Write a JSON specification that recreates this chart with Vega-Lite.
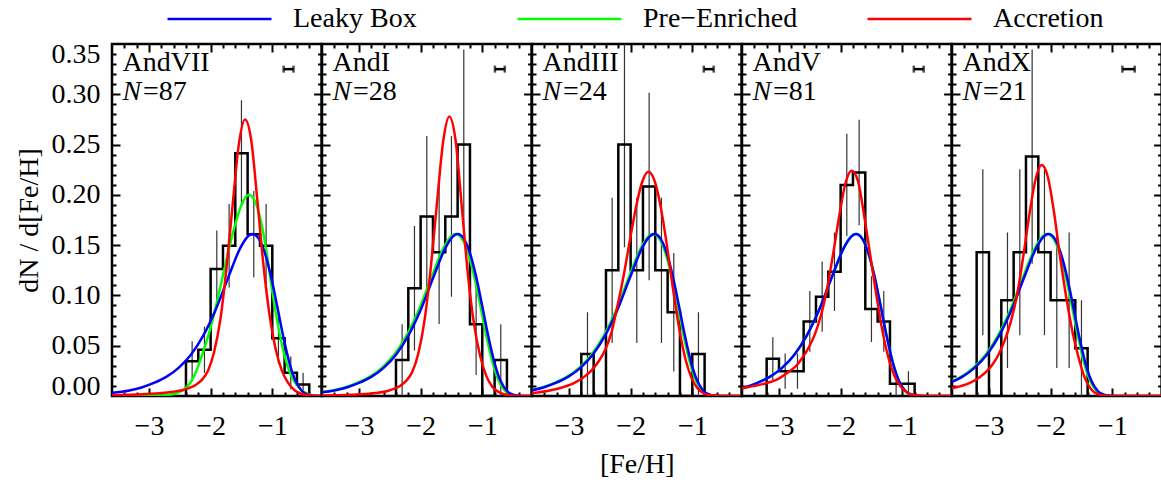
{
"$schema": "https://vega.github.io/schema/vega-lite/v6.json",
"background": "white",
"padding": {"left": 13, "top": 4, "right": 0, "bottom": 4},
"spacing": 0,
"bounds": "flush",
"config": {
  "view": {"stroke": "black", "strokeWidth": 2.5},
  "font": "Liberation Serif",
  "axis": {"grid": false, "domain": false, "tickColor": "black", "tickWidth": 2, "labelFont": "Liberation Serif", "labelFontSize": 28, "labelColor": "black", "titleFont": "Liberation Serif", "titleFontSize": 28, "titleFontWeight": "normal", "titleColor": "black"},
  "legend": {"labelFont": "Liberation Serif", "labelFontSize": 28, "labelColor": "black", "padding": 0}
},
"datasets": {
"hist": [
{"p":"AndVII","o":0,"x":-2.4,"y":0},{"p":"AndVII","o":1,"x":-2.4,"y":0.0345},{"p":"AndVII","o":2,"x":-2.2,"y":0.046},{"p":"AndVII","o":3,"x":-2.0,"y":0.1264},{"p":"AndVII","o":4,"x":-1.8,"y":0.1494},{"p":"AndVII","o":5,"x":-1.6,"y":0.2414},{"p":"AndVII","o":6,"x":-1.4,"y":0.1609},{"p":"AndVII","o":7,"x":-1.2,"y":0.1494},{"p":"AndVII","o":8,"x":-1.0,"y":0.0575},{"p":"AndVII","o":9,"x":-0.8,"y":0.023},{"p":"AndVII","o":10,"x":-0.6,"y":0.0115},{"p":"AndVII","o":11,"x":-0.4,"y":0},
{"p":"AndI","o":0,"x":-2.4,"y":0},{"p":"AndI","o":1,"x":-2.4,"y":0.0357},{"p":"AndI","o":2,"x":-2.2,"y":0.1071},{"p":"AndI","o":3,"x":-2.0,"y":0.1786},{"p":"AndI","o":4,"x":-1.8,"y":0.1429},{"p":"AndI","o":5,"x":-1.6,"y":0.1786},{"p":"AndI","o":6,"x":-1.4,"y":0.25},{"p":"AndI","o":7,"x":-1.2,"y":0.0714},{"p":"AndI","o":8,"x":-1.0,"y":0},{"p":"AndI","o":9,"x":-0.8,"y":0.0357},{"p":"AndI","o":10,"x":-0.6,"y":0},
{"p":"AndIII","o":0,"x":-2.8,"y":0},{"p":"AndIII","o":1,"x":-2.8,"y":0.0417},{"p":"AndIII","o":2,"x":-2.6,"y":0},{"p":"AndIII","o":3,"x":-2.4,"y":0.125},{"p":"AndIII","o":4,"x":-2.2,"y":0.25},{"p":"AndIII","o":5,"x":-2.0,"y":0.125},{"p":"AndIII","o":6,"x":-1.8,"y":0.2083},{"p":"AndIII","o":7,"x":-1.6,"y":0.125},{"p":"AndIII","o":8,"x":-1.4,"y":0.0833},{"p":"AndIII","o":9,"x":-1.2,"y":0},{"p":"AndIII","o":10,"x":-1.0,"y":0.0417},{"p":"AndIII","o":11,"x":-0.8,"y":0},
{"p":"AndV","o":0,"x":-3.2,"y":0},{"p":"AndV","o":1,"x":-3.2,"y":0.037},{"p":"AndV","o":2,"x":-3.0,"y":0.0247},{"p":"AndV","o":3,"x":-2.8,"y":0.0247},{"p":"AndV","o":4,"x":-2.6,"y":0.0741},{"p":"AndV","o":5,"x":-2.4,"y":0.0988},{"p":"AndV","o":6,"x":-2.2,"y":0.1235},{"p":"AndV","o":7,"x":-2.0,"y":0.2099},{"p":"AndV","o":8,"x":-1.8,"y":0.2222},{"p":"AndV","o":9,"x":-1.6,"y":0.0864},{"p":"AndV","o":10,"x":-1.4,"y":0.0741},{"p":"AndV","o":11,"x":-1.2,"y":0.0123},{"p":"AndV","o":12,"x":-1.0,"y":0.0123},{"p":"AndV","o":13,"x":-0.8,"y":0},
{"p":"AndX","o":0,"x":-3.2,"y":0},{"p":"AndX","o":1,"x":-3.2,"y":0.1429},{"p":"AndX","o":2,"x":-3.0,"y":0},{"p":"AndX","o":3,"x":-2.8,"y":0.0952},{"p":"AndX","o":4,"x":-2.6,"y":0.1429},{"p":"AndX","o":5,"x":-2.4,"y":0.2381},{"p":"AndX","o":6,"x":-2.2,"y":0.1429},{"p":"AndX","o":7,"x":-2.0,"y":0.0952},{"p":"AndX","o":8,"x":-1.8,"y":0.0952},{"p":"AndX","o":9,"x":-1.6,"y":0.0476},{"p":"AndX","o":10,"x":-1.4,"y":0}
],
"err": [
{"p":"AndVII","x":-2.3,"lo":0.0146,"hi":0.0544},{"p":"AndVII","x":-2.1,"lo":0.023,"hi":0.069},{"p":"AndVII","x":-1.9,"lo":0.0883,"hi":0.1645},{"p":"AndVII","x":-1.7,"lo":0.108,"hi":0.1908},{"p":"AndVII","x":-1.5,"lo":0.1887,"hi":0.2941},{"p":"AndVII","x":-1.3,"lo":0.1179,"hi":0.2039},{"p":"AndVII","x":-1.1,"lo":0.108,"hi":0.1908},{"p":"AndVII","x":-0.9,"lo":0.0318,"hi":0.0832},{"p":"AndVII","x":-0.7,"lo":0.0067,"hi":0.0393},{"p":"AndVII","x":-0.5,"lo":0,"hi":0.023},
{"p":"AndI","x":-2.3,"lo":0,"hi":0.0714},{"p":"AndI","x":-2.1,"lo":0.0452,"hi":0.169},{"p":"AndI","x":-1.9,"lo":0.0987,"hi":0.2585},{"p":"AndI","x":-1.7,"lo":0.0715,"hi":0.2143},{"p":"AndI","x":-1.5,"lo":0.0987,"hi":0.2585},{"p":"AndI","x":-1.3,"lo":0.1555,"hi":0.3445},{"p":"AndI","x":-1.1,"lo":0.0209,"hi":0.1219},{"p":"AndI","x":-0.7,"lo":0,"hi":0.0714},
{"p":"AndIII","x":-2.7,"lo":0,"hi":0.0833},{"p":"AndIII","x":-2.3,"lo":0.0528,"hi":0.1972},{"p":"AndIII","x":-2.1,"lo":0.1479,"hi":0.3521},{"p":"AndIII","x":-1.9,"lo":0.0528,"hi":0.1972},{"p":"AndIII","x":-1.7,"lo":0.1151,"hi":0.3015},{"p":"AndIII","x":-1.5,"lo":0.0528,"hi":0.1972},{"p":"AndIII","x":-1.3,"lo":0.0244,"hi":0.1422},{"p":"AndIII","x":-0.9,"lo":0,"hi":0.0833},
{"p":"AndV","x":-3.1,"lo":0.0156,"hi":0.0584},{"p":"AndV","x":-2.9,"lo":0.0072,"hi":0.0422},{"p":"AndV","x":-2.7,"lo":0.0072,"hi":0.0422},{"p":"AndV","x":-2.5,"lo":0.0439,"hi":0.1043},{"p":"AndV","x":-2.3,"lo":0.0639,"hi":0.1337},{"p":"AndV","x":-2.1,"lo":0.0845,"hi":0.1625},{"p":"AndV","x":-1.9,"lo":0.159,"hi":0.2608},{"p":"AndV","x":-1.7,"lo":0.1698,"hi":0.2746},{"p":"AndV","x":-1.5,"lo":0.0537,"hi":0.1191},{"p":"AndV","x":-1.3,"lo":0.0439,"hi":0.1043},{"p":"AndV","x":-1.1,"lo":0,"hi":0.0246},{"p":"AndV","x":-0.9,"lo":0,"hi":0.0246},
{"p":"AndX","x":-3.1,"lo":0.0604,"hi":0.2254},{"p":"AndX","x":-2.7,"lo":0.0279,"hi":0.1625},{"p":"AndX","x":-2.5,"lo":0.0604,"hi":0.2254},{"p":"AndX","x":-2.3,"lo":0.1316,"hi":0.3446},{"p":"AndX","x":-2.1,"lo":0.0604,"hi":0.2254},{"p":"AndX","x":-1.9,"lo":0.0279,"hi":0.1625},{"p":"AndX","x":-1.7,"lo":0.0279,"hi":0.1625},{"p":"AndX","x":-1.5,"lo":0,"hi":0.0952}
],
"typ": [
{"p":"AndVII","lo":-0.816,"hi":-0.656},{"p":"AndI","lo":-0.795,"hi":-0.635},{"p":"AndIII","lo":-0.813,"hi":-0.653},{"p":"AndV","lo":-0.813,"hi":-0.653},{"p":"AndX","lo":-0.836,"hi":-0.636}
],
"curve": [
{"p":"AndVII","m":"Pre−Enriched","x":-3.7,"y":0},{"p":"AndVII","m":"Pre−Enriched","x":-2.8,"y":0.0005},{"p":"AndVII","m":"Pre−Enriched","x":-2.6,"y":0.002},{"p":"AndVII","m":"Pre−Enriched","x":-2.5,"y":0.004},{"p":"AndVII","m":"Pre−Enriched","x":-2.4,"y":0.008},{"p":"AndVII","m":"Pre−Enriched","x":-2.3,"y":0.016},{"p":"AndVII","m":"Pre−Enriched","x":-2.2,"y":0.03},{"p":"AndVII","m":"Pre−Enriched","x":-2.1,"y":0.048},{"p":"AndVII","m":"Pre−Enriched","x":-2.0,"y":0.068},{"p":"AndVII","m":"Pre−Enriched","x":-1.9,"y":0.093},{"p":"AndVII","m":"Pre−Enriched","x":-1.8,"y":0.12},{"p":"AndVII","m":"Pre−Enriched","x":-1.7,"y":0.147},{"p":"AndVII","m":"Pre−Enriched","x":-1.6,"y":0.171},{"p":"AndVII","m":"Pre−Enriched","x":-1.5,"y":0.19},{"p":"AndVII","m":"Pre−Enriched","x":-1.38,"y":0.2},{"p":"AndVII","m":"Pre−Enriched","x":-1.3,"y":0.196},{"p":"AndVII","m":"Pre−Enriched","x":-1.2,"y":0.178},{"p":"AndVII","m":"Pre−Enriched","x":-1.1,"y":0.146},{"p":"AndVII","m":"Pre−Enriched","x":-1.0,"y":0.104},{"p":"AndVII","m":"Pre−Enriched","x":-0.9,"y":0.068},{"p":"AndVII","m":"Pre−Enriched","x":-0.8,"y":0.04},{"p":"AndVII","m":"Pre−Enriched","x":-0.7,"y":0.021},{"p":"AndVII","m":"Pre−Enriched","x":-0.6,"y":0.011},{"p":"AndVII","m":"Pre−Enriched","x":-0.5,"y":0.0045},{"p":"AndVII","m":"Pre−Enriched","x":-0.4,"y":0.0015},{"p":"AndVII","m":"Pre−Enriched","x":-0.3,"y":0},{"p":"AndVII","m":"Pre−Enriched","x":0.5,"y":0},
{"p":"AndVII","m":"Leaky Box","x":-3.72,"y":0.0025},{"p":"AndVII","m":"Leaky Box","x":-3.32,"y":0.0055},{"p":"AndVII","m":"Leaky Box","x":-3.12,"y":0.0085},{"p":"AndVII","m":"Leaky Box","x":-2.92,"y":0.013},{"p":"AndVII","m":"Leaky Box","x":-2.72,"y":0.019},{"p":"AndVII","m":"Leaky Box","x":-2.52,"y":0.028},{"p":"AndVII","m":"Leaky Box","x":-2.32,"y":0.041},{"p":"AndVII","m":"Leaky Box","x":-2.12,"y":0.06},{"p":"AndVII","m":"Leaky Box","x":-1.92,"y":0.0855},{"p":"AndVII","m":"Leaky Box","x":-1.72,"y":0.117},{"p":"AndVII","m":"Leaky Box","x":-1.52,"y":0.147},{"p":"AndVII","m":"Leaky Box","x":-1.42,"y":0.157},{"p":"AndVII","m":"Leaky Box","x":-1.32,"y":0.161},{"p":"AndVII","m":"Leaky Box","x":-1.22,"y":0.1565},{"p":"AndVII","m":"Leaky Box","x":-1.12,"y":0.142},{"p":"AndVII","m":"Leaky Box","x":-1.02,"y":0.1187},{"p":"AndVII","m":"Leaky Box","x":-0.92,"y":0.0892},{"p":"AndVII","m":"Leaky Box","x":-0.82,"y":0.0586},{"p":"AndVII","m":"Leaky Box","x":-0.72,"y":0.0325},{"p":"AndVII","m":"Leaky Box","x":-0.62,"y":0.0146},{"p":"AndVII","m":"Leaky Box","x":-0.52,"y":0.005},{"p":"AndVII","m":"Leaky Box","x":-0.42,"y":0.0012},{"p":"AndVII","m":"Leaky Box","x":-0.32,"y":0.0002},{"p":"AndVII","m":"Leaky Box","x":-0.12,"y":0},{"p":"AndVII","m":"Leaky Box","x":0.68,"y":0},
{"p":"AndVII","m":"Accretion","x":-3.843,"y":0.0005},{"p":"AndVII","m":"Accretion","x":-3.443,"y":0.001},{"p":"AndVII","m":"Accretion","x":-3.043,"y":0.002},{"p":"AndVII","m":"Accretion","x":-2.643,"y":0.004},{"p":"AndVII","m":"Accretion","x":-2.443,"y":0.006},{"p":"AndVII","m":"Accretion","x":-2.343,"y":0.008},{"p":"AndVII","m":"Accretion","x":-2.243,"y":0.011},{"p":"AndVII","m":"Accretion","x":-2.143,"y":0.016},{"p":"AndVII","m":"Accretion","x":-2.043,"y":0.025},{"p":"AndVII","m":"Accretion","x":-1.943,"y":0.044},{"p":"AndVII","m":"Accretion","x":-1.843,"y":0.076},{"p":"AndVII","m":"Accretion","x":-1.743,"y":0.127},{"p":"AndVII","m":"Accretion","x":-1.643,"y":0.19},{"p":"AndVII","m":"Accretion","x":-1.543,"y":0.25},{"p":"AndVII","m":"Accretion","x":-1.443,"y":0.275},{"p":"AndVII","m":"Accretion","x":-1.343,"y":0.255},{"p":"AndVII","m":"Accretion","x":-1.243,"y":0.195},{"p":"AndVII","m":"Accretion","x":-1.143,"y":0.13},{"p":"AndVII","m":"Accretion","x":-1.043,"y":0.08},{"p":"AndVII","m":"Accretion","x":-0.943,"y":0.046},{"p":"AndVII","m":"Accretion","x":-0.843,"y":0.025},{"p":"AndVII","m":"Accretion","x":-0.743,"y":0.013},{"p":"AndVII","m":"Accretion","x":-0.643,"y":0.006},{"p":"AndVII","m":"Accretion","x":-0.543,"y":0.0025},{"p":"AndVII","m":"Accretion","x":-0.443,"y":0.001},{"p":"AndVII","m":"Accretion","x":-0.243,"y":0},{"p":"AndVII","m":"Accretion","x":0.557,"y":0},
{"p":"AndI","m":"Pre−Enriched","x":-3.83,"y":0.0025},{"p":"AndI","m":"Pre−Enriched","x":-3.43,"y":0.0055},{"p":"AndI","m":"Pre−Enriched","x":-3.23,"y":0.0085},{"p":"AndI","m":"Pre−Enriched","x":-3.03,"y":0.013},{"p":"AndI","m":"Pre−Enriched","x":-2.83,"y":0.019},{"p":"AndI","m":"Pre−Enriched","x":-2.63,"y":0.028},{"p":"AndI","m":"Pre−Enriched","x":-2.43,"y":0.041},{"p":"AndI","m":"Pre−Enriched","x":-2.23,"y":0.06},{"p":"AndI","m":"Pre−Enriched","x":-2.03,"y":0.0855},{"p":"AndI","m":"Pre−Enriched","x":-1.83,"y":0.117},{"p":"AndI","m":"Pre−Enriched","x":-1.63,"y":0.147},{"p":"AndI","m":"Pre−Enriched","x":-1.53,"y":0.157},{"p":"AndI","m":"Pre−Enriched","x":-1.43,"y":0.161},{"p":"AndI","m":"Pre−Enriched","x":-1.33,"y":0.1565},{"p":"AndI","m":"Pre−Enriched","x":-1.23,"y":0.142},{"p":"AndI","m":"Pre−Enriched","x":-1.13,"y":0.1187},{"p":"AndI","m":"Pre−Enriched","x":-1.03,"y":0.0892},{"p":"AndI","m":"Pre−Enriched","x":-0.93,"y":0.0586},{"p":"AndI","m":"Pre−Enriched","x":-0.83,"y":0.0325},{"p":"AndI","m":"Pre−Enriched","x":-0.73,"y":0.0146},{"p":"AndI","m":"Pre−Enriched","x":-0.63,"y":0.005},{"p":"AndI","m":"Pre−Enriched","x":-0.53,"y":0.0012},{"p":"AndI","m":"Pre−Enriched","x":-0.43,"y":0.0002},{"p":"AndI","m":"Pre−Enriched","x":-0.23,"y":0},{"p":"AndI","m":"Pre−Enriched","x":0.57,"y":0},
{"p":"AndI","m":"Leaky Box","x":-3.8,"y":0.0025},{"p":"AndI","m":"Leaky Box","x":-3.4,"y":0.0055},{"p":"AndI","m":"Leaky Box","x":-3.2,"y":0.0085},{"p":"AndI","m":"Leaky Box","x":-3.0,"y":0.013},{"p":"AndI","m":"Leaky Box","x":-2.8,"y":0.019},{"p":"AndI","m":"Leaky Box","x":-2.6,"y":0.028},{"p":"AndI","m":"Leaky Box","x":-2.4,"y":0.041},{"p":"AndI","m":"Leaky Box","x":-2.2,"y":0.06},{"p":"AndI","m":"Leaky Box","x":-2.0,"y":0.0855},{"p":"AndI","m":"Leaky Box","x":-1.8,"y":0.117},{"p":"AndI","m":"Leaky Box","x":-1.6,"y":0.147},{"p":"AndI","m":"Leaky Box","x":-1.5,"y":0.157},{"p":"AndI","m":"Leaky Box","x":-1.4,"y":0.161},{"p":"AndI","m":"Leaky Box","x":-1.3,"y":0.1565},{"p":"AndI","m":"Leaky Box","x":-1.2,"y":0.142},{"p":"AndI","m":"Leaky Box","x":-1.1,"y":0.1187},{"p":"AndI","m":"Leaky Box","x":-1.0,"y":0.0892},{"p":"AndI","m":"Leaky Box","x":-0.9,"y":0.0586},{"p":"AndI","m":"Leaky Box","x":-0.8,"y":0.0325},{"p":"AndI","m":"Leaky Box","x":-0.7,"y":0.0146},{"p":"AndI","m":"Leaky Box","x":-0.6,"y":0.005},{"p":"AndI","m":"Leaky Box","x":-0.5,"y":0.0012},{"p":"AndI","m":"Leaky Box","x":-0.4,"y":0.0002},{"p":"AndI","m":"Leaky Box","x":-0.2,"y":0},{"p":"AndI","m":"Leaky Box","x":0.6,"y":0},
{"p":"AndI","m":"Accretion","x":-3.935,"y":0.0003},{"p":"AndI","m":"Accretion","x":-3.535,"y":0.0006},{"p":"AndI","m":"Accretion","x":-3.135,"y":0.0012},{"p":"AndI","m":"Accretion","x":-2.735,"y":0.003},{"p":"AndI","m":"Accretion","x":-2.535,"y":0.005},{"p":"AndI","m":"Accretion","x":-2.435,"y":0.007},{"p":"AndI","m":"Accretion","x":-2.335,"y":0.01},{"p":"AndI","m":"Accretion","x":-2.235,"y":0.015},{"p":"AndI","m":"Accretion","x":-2.135,"y":0.024},{"p":"AndI","m":"Accretion","x":-2.035,"y":0.043},{"p":"AndI","m":"Accretion","x":-1.935,"y":0.076},{"p":"AndI","m":"Accretion","x":-1.835,"y":0.128},{"p":"AndI","m":"Accretion","x":-1.735,"y":0.192},{"p":"AndI","m":"Accretion","x":-1.635,"y":0.253},{"p":"AndI","m":"Accretion","x":-1.535,"y":0.278},{"p":"AndI","m":"Accretion","x":-1.435,"y":0.255},{"p":"AndI","m":"Accretion","x":-1.335,"y":0.19},{"p":"AndI","m":"Accretion","x":-1.235,"y":0.122},{"p":"AndI","m":"Accretion","x":-1.135,"y":0.072},{"p":"AndI","m":"Accretion","x":-1.035,"y":0.04},{"p":"AndI","m":"Accretion","x":-0.935,"y":0.02},{"p":"AndI","m":"Accretion","x":-0.835,"y":0.009},{"p":"AndI","m":"Accretion","x":-0.735,"y":0.004},{"p":"AndI","m":"Accretion","x":-0.635,"y":0.0015},{"p":"AndI","m":"Accretion","x":-0.535,"y":0.0005},{"p":"AndI","m":"Accretion","x":-0.335,"y":0},{"p":"AndI","m":"Accretion","x":0.465,"y":0},
{"p":"AndIII","m":"Pre−Enriched","x":-4.035,"y":0.0025},{"p":"AndIII","m":"Pre−Enriched","x":-3.635,"y":0.0055},{"p":"AndIII","m":"Pre−Enriched","x":-3.435,"y":0.0085},{"p":"AndIII","m":"Pre−Enriched","x":-3.235,"y":0.013},{"p":"AndIII","m":"Pre−Enriched","x":-3.035,"y":0.019},{"p":"AndIII","m":"Pre−Enriched","x":-2.835,"y":0.028},{"p":"AndIII","m":"Pre−Enriched","x":-2.635,"y":0.041},{"p":"AndIII","m":"Pre−Enriched","x":-2.435,"y":0.06},{"p":"AndIII","m":"Pre−Enriched","x":-2.235,"y":0.0855},{"p":"AndIII","m":"Pre−Enriched","x":-2.035,"y":0.117},{"p":"AndIII","m":"Pre−Enriched","x":-1.835,"y":0.147},{"p":"AndIII","m":"Pre−Enriched","x":-1.735,"y":0.157},{"p":"AndIII","m":"Pre−Enriched","x":-1.635,"y":0.161},{"p":"AndIII","m":"Pre−Enriched","x":-1.535,"y":0.1565},{"p":"AndIII","m":"Pre−Enriched","x":-1.435,"y":0.142},{"p":"AndIII","m":"Pre−Enriched","x":-1.335,"y":0.1187},{"p":"AndIII","m":"Pre−Enriched","x":-1.235,"y":0.0892},{"p":"AndIII","m":"Pre−Enriched","x":-1.135,"y":0.0586},{"p":"AndIII","m":"Pre−Enriched","x":-1.035,"y":0.0325},{"p":"AndIII","m":"Pre−Enriched","x":-0.935,"y":0.0146},{"p":"AndIII","m":"Pre−Enriched","x":-0.835,"y":0.005},{"p":"AndIII","m":"Pre−Enriched","x":-0.735,"y":0.0012},{"p":"AndIII","m":"Pre−Enriched","x":-0.635,"y":0.0002},{"p":"AndIII","m":"Pre−Enriched","x":-0.435,"y":0},{"p":"AndIII","m":"Pre−Enriched","x":0.365,"y":0},
{"p":"AndIII","m":"Leaky Box","x":-4.015,"y":0.0025},{"p":"AndIII","m":"Leaky Box","x":-3.615,"y":0.0055},{"p":"AndIII","m":"Leaky Box","x":-3.415,"y":0.0085},{"p":"AndIII","m":"Leaky Box","x":-3.215,"y":0.013},{"p":"AndIII","m":"Leaky Box","x":-3.015,"y":0.019},{"p":"AndIII","m":"Leaky Box","x":-2.815,"y":0.028},{"p":"AndIII","m":"Leaky Box","x":-2.615,"y":0.041},{"p":"AndIII","m":"Leaky Box","x":-2.415,"y":0.06},{"p":"AndIII","m":"Leaky Box","x":-2.215,"y":0.0855},{"p":"AndIII","m":"Leaky Box","x":-2.015,"y":0.117},{"p":"AndIII","m":"Leaky Box","x":-1.815,"y":0.147},{"p":"AndIII","m":"Leaky Box","x":-1.715,"y":0.157},{"p":"AndIII","m":"Leaky Box","x":-1.615,"y":0.161},{"p":"AndIII","m":"Leaky Box","x":-1.515,"y":0.1565},{"p":"AndIII","m":"Leaky Box","x":-1.415,"y":0.142},{"p":"AndIII","m":"Leaky Box","x":-1.315,"y":0.1187},{"p":"AndIII","m":"Leaky Box","x":-1.215,"y":0.0892},{"p":"AndIII","m":"Leaky Box","x":-1.115,"y":0.0586},{"p":"AndIII","m":"Leaky Box","x":-1.015,"y":0.0325},{"p":"AndIII","m":"Leaky Box","x":-0.915,"y":0.0146},{"p":"AndIII","m":"Leaky Box","x":-0.815,"y":0.005},{"p":"AndIII","m":"Leaky Box","x":-0.715,"y":0.0012},{"p":"AndIII","m":"Leaky Box","x":-0.615,"y":0.0002},{"p":"AndIII","m":"Leaky Box","x":-0.415,"y":0},{"p":"AndIII","m":"Leaky Box","x":0.385,"y":0},
{"p":"AndIII","m":"Accretion","x":-4.112,"y":0.001},{"p":"AndIII","m":"Accretion","x":-3.712,"y":0.0025},{"p":"AndIII","m":"Accretion","x":-3.512,"y":0.0035},{"p":"AndIII","m":"Accretion","x":-3.312,"y":0.0055},{"p":"AndIII","m":"Accretion","x":-3.112,"y":0.0085},{"p":"AndIII","m":"Accretion","x":-2.912,"y":0.013},{"p":"AndIII","m":"Accretion","x":-2.712,"y":0.021},{"p":"AndIII","m":"Accretion","x":-2.612,"y":0.027},{"p":"AndIII","m":"Accretion","x":-2.512,"y":0.035},{"p":"AndIII","m":"Accretion","x":-2.412,"y":0.046},{"p":"AndIII","m":"Accretion","x":-2.312,"y":0.063},{"p":"AndIII","m":"Accretion","x":-2.212,"y":0.09},{"p":"AndIII","m":"Accretion","x":-2.112,"y":0.12},{"p":"AndIII","m":"Accretion","x":-2.012,"y":0.155},{"p":"AndIII","m":"Accretion","x":-1.912,"y":0.188},{"p":"AndIII","m":"Accretion","x":-1.812,"y":0.213},{"p":"AndIII","m":"Accretion","x":-1.712,"y":0.223},{"p":"AndIII","m":"Accretion","x":-1.612,"y":0.214},{"p":"AndIII","m":"Accretion","x":-1.512,"y":0.188},{"p":"AndIII","m":"Accretion","x":-1.412,"y":0.15},{"p":"AndIII","m":"Accretion","x":-1.312,"y":0.106},{"p":"AndIII","m":"Accretion","x":-1.212,"y":0.067},{"p":"AndIII","m":"Accretion","x":-1.112,"y":0.037},{"p":"AndIII","m":"Accretion","x":-1.012,"y":0.018},{"p":"AndIII","m":"Accretion","x":-0.912,"y":0.0075},{"p":"AndIII","m":"Accretion","x":-0.812,"y":0.0025},{"p":"AndIII","m":"Accretion","x":-0.712,"y":0.0008},{"p":"AndIII","m":"Accretion","x":-0.512,"y":0},{"p":"AndIII","m":"Accretion","x":0.288,"y":0},
{"p":"AndV","m":"Pre−Enriched","x":-4.15,"y":0.0025},{"p":"AndV","m":"Pre−Enriched","x":-3.75,"y":0.0055},{"p":"AndV","m":"Pre−Enriched","x":-3.55,"y":0.0085},{"p":"AndV","m":"Pre−Enriched","x":-3.35,"y":0.013},{"p":"AndV","m":"Pre−Enriched","x":-3.15,"y":0.019},{"p":"AndV","m":"Pre−Enriched","x":-2.95,"y":0.028},{"p":"AndV","m":"Pre−Enriched","x":-2.75,"y":0.041},{"p":"AndV","m":"Pre−Enriched","x":-2.55,"y":0.06},{"p":"AndV","m":"Pre−Enriched","x":-2.35,"y":0.0855},{"p":"AndV","m":"Pre−Enriched","x":-2.15,"y":0.117},{"p":"AndV","m":"Pre−Enriched","x":-1.95,"y":0.147},{"p":"AndV","m":"Pre−Enriched","x":-1.85,"y":0.157},{"p":"AndV","m":"Pre−Enriched","x":-1.75,"y":0.161},{"p":"AndV","m":"Pre−Enriched","x":-1.65,"y":0.1565},{"p":"AndV","m":"Pre−Enriched","x":-1.55,"y":0.142},{"p":"AndV","m":"Pre−Enriched","x":-1.45,"y":0.1187},{"p":"AndV","m":"Pre−Enriched","x":-1.35,"y":0.0892},{"p":"AndV","m":"Pre−Enriched","x":-1.25,"y":0.0586},{"p":"AndV","m":"Pre−Enriched","x":-1.15,"y":0.0325},{"p":"AndV","m":"Pre−Enriched","x":-1.05,"y":0.0146},{"p":"AndV","m":"Pre−Enriched","x":-0.95,"y":0.005},{"p":"AndV","m":"Pre−Enriched","x":-0.85,"y":0.0012},{"p":"AndV","m":"Pre−Enriched","x":-0.75,"y":0.0002},{"p":"AndV","m":"Pre−Enriched","x":-0.55,"y":0},{"p":"AndV","m":"Pre−Enriched","x":0.25,"y":0},
{"p":"AndV","m":"Leaky Box","x":-4.15,"y":0.0025},{"p":"AndV","m":"Leaky Box","x":-3.75,"y":0.0055},{"p":"AndV","m":"Leaky Box","x":-3.55,"y":0.0085},{"p":"AndV","m":"Leaky Box","x":-3.35,"y":0.013},{"p":"AndV","m":"Leaky Box","x":-3.15,"y":0.019},{"p":"AndV","m":"Leaky Box","x":-2.95,"y":0.028},{"p":"AndV","m":"Leaky Box","x":-2.75,"y":0.041},{"p":"AndV","m":"Leaky Box","x":-2.55,"y":0.06},{"p":"AndV","m":"Leaky Box","x":-2.35,"y":0.0855},{"p":"AndV","m":"Leaky Box","x":-2.15,"y":0.117},{"p":"AndV","m":"Leaky Box","x":-1.95,"y":0.147},{"p":"AndV","m":"Leaky Box","x":-1.85,"y":0.157},{"p":"AndV","m":"Leaky Box","x":-1.75,"y":0.161},{"p":"AndV","m":"Leaky Box","x":-1.65,"y":0.1565},{"p":"AndV","m":"Leaky Box","x":-1.55,"y":0.142},{"p":"AndV","m":"Leaky Box","x":-1.45,"y":0.1187},{"p":"AndV","m":"Leaky Box","x":-1.35,"y":0.0892},{"p":"AndV","m":"Leaky Box","x":-1.25,"y":0.0586},{"p":"AndV","m":"Leaky Box","x":-1.15,"y":0.0325},{"p":"AndV","m":"Leaky Box","x":-1.05,"y":0.0146},{"p":"AndV","m":"Leaky Box","x":-0.95,"y":0.005},{"p":"AndV","m":"Leaky Box","x":-0.85,"y":0.0012},{"p":"AndV","m":"Leaky Box","x":-0.75,"y":0.0002},{"p":"AndV","m":"Leaky Box","x":-0.55,"y":0},{"p":"AndV","m":"Leaky Box","x":0.25,"y":0},
{"p":"AndV","m":"Accretion","x":-4.22,"y":0.003},{"p":"AndV","m":"Accretion","x":-3.82,"y":0.006},{"p":"AndV","m":"Accretion","x":-3.62,"y":0.0076},{"p":"AndV","m":"Accretion","x":-3.42,"y":0.0098},{"p":"AndV","m":"Accretion","x":-3.22,"y":0.0125},{"p":"AndV","m":"Accretion","x":-3.02,"y":0.0168},{"p":"AndV","m":"Accretion","x":-2.82,"y":0.025},{"p":"AndV","m":"Accretion","x":-2.72,"y":0.03},{"p":"AndV","m":"Accretion","x":-2.62,"y":0.038},{"p":"AndV","m":"Accretion","x":-2.52,"y":0.048},{"p":"AndV","m":"Accretion","x":-2.42,"y":0.061},{"p":"AndV","m":"Accretion","x":-2.32,"y":0.08},{"p":"AndV","m":"Accretion","x":-2.22,"y":0.107},{"p":"AndV","m":"Accretion","x":-2.12,"y":0.142},{"p":"AndV","m":"Accretion","x":-2.02,"y":0.18},{"p":"AndV","m":"Accretion","x":-1.92,"y":0.212},{"p":"AndV","m":"Accretion","x":-1.82,"y":0.224},{"p":"AndV","m":"Accretion","x":-1.72,"y":0.214},{"p":"AndV","m":"Accretion","x":-1.62,"y":0.18},{"p":"AndV","m":"Accretion","x":-1.52,"y":0.14},{"p":"AndV","m":"Accretion","x":-1.42,"y":0.1},{"p":"AndV","m":"Accretion","x":-1.32,"y":0.064},{"p":"AndV","m":"Accretion","x":-1.22,"y":0.037},{"p":"AndV","m":"Accretion","x":-1.12,"y":0.019},{"p":"AndV","m":"Accretion","x":-1.02,"y":0.009},{"p":"AndV","m":"Accretion","x":-0.92,"y":0.0035},{"p":"AndV","m":"Accretion","x":-0.82,"y":0.001},{"p":"AndV","m":"Accretion","x":-0.62,"y":0},{"p":"AndV","m":"Accretion","x":0.18,"y":0},
{"p":"AndX","m":"Pre−Enriched","x":-4.455,"y":0.0025},{"p":"AndX","m":"Pre−Enriched","x":-4.055,"y":0.0055},{"p":"AndX","m":"Pre−Enriched","x":-3.855,"y":0.0085},{"p":"AndX","m":"Pre−Enriched","x":-3.655,"y":0.013},{"p":"AndX","m":"Pre−Enriched","x":-3.455,"y":0.019},{"p":"AndX","m":"Pre−Enriched","x":-3.255,"y":0.028},{"p":"AndX","m":"Pre−Enriched","x":-3.055,"y":0.041},{"p":"AndX","m":"Pre−Enriched","x":-2.855,"y":0.06},{"p":"AndX","m":"Pre−Enriched","x":-2.655,"y":0.0855},{"p":"AndX","m":"Pre−Enriched","x":-2.455,"y":0.117},{"p":"AndX","m":"Pre−Enriched","x":-2.255,"y":0.147},{"p":"AndX","m":"Pre−Enriched","x":-2.155,"y":0.157},{"p":"AndX","m":"Pre−Enriched","x":-2.055,"y":0.161},{"p":"AndX","m":"Pre−Enriched","x":-1.955,"y":0.1565},{"p":"AndX","m":"Pre−Enriched","x":-1.855,"y":0.142},{"p":"AndX","m":"Pre−Enriched","x":-1.755,"y":0.1187},{"p":"AndX","m":"Pre−Enriched","x":-1.655,"y":0.0892},{"p":"AndX","m":"Pre−Enriched","x":-1.555,"y":0.0586},{"p":"AndX","m":"Pre−Enriched","x":-1.455,"y":0.0325},{"p":"AndX","m":"Pre−Enriched","x":-1.355,"y":0.0146},{"p":"AndX","m":"Pre−Enriched","x":-1.255,"y":0.005},{"p":"AndX","m":"Pre−Enriched","x":-1.155,"y":0.0012},{"p":"AndX","m":"Pre−Enriched","x":-1.055,"y":0.0002},{"p":"AndX","m":"Pre−Enriched","x":-0.855,"y":0},{"p":"AndX","m":"Pre−Enriched","x":-0.055,"y":0},
{"p":"AndX","m":"Leaky Box","x":-4.435,"y":0.0025},{"p":"AndX","m":"Leaky Box","x":-4.035,"y":0.0055},{"p":"AndX","m":"Leaky Box","x":-3.835,"y":0.0085},{"p":"AndX","m":"Leaky Box","x":-3.635,"y":0.013},{"p":"AndX","m":"Leaky Box","x":-3.435,"y":0.019},{"p":"AndX","m":"Leaky Box","x":-3.235,"y":0.028},{"p":"AndX","m":"Leaky Box","x":-3.035,"y":0.041},{"p":"AndX","m":"Leaky Box","x":-2.835,"y":0.06},{"p":"AndX","m":"Leaky Box","x":-2.635,"y":0.0855},{"p":"AndX","m":"Leaky Box","x":-2.435,"y":0.117},{"p":"AndX","m":"Leaky Box","x":-2.235,"y":0.147},{"p":"AndX","m":"Leaky Box","x":-2.135,"y":0.157},{"p":"AndX","m":"Leaky Box","x":-2.035,"y":0.161},{"p":"AndX","m":"Leaky Box","x":-1.935,"y":0.1565},{"p":"AndX","m":"Leaky Box","x":-1.835,"y":0.142},{"p":"AndX","m":"Leaky Box","x":-1.735,"y":0.1187},{"p":"AndX","m":"Leaky Box","x":-1.635,"y":0.0892},{"p":"AndX","m":"Leaky Box","x":-1.535,"y":0.0586},{"p":"AndX","m":"Leaky Box","x":-1.435,"y":0.0325},{"p":"AndX","m":"Leaky Box","x":-1.335,"y":0.0146},{"p":"AndX","m":"Leaky Box","x":-1.235,"y":0.005},{"p":"AndX","m":"Leaky Box","x":-1.135,"y":0.0012},{"p":"AndX","m":"Leaky Box","x":-1.035,"y":0.0002},{"p":"AndX","m":"Leaky Box","x":-0.835,"y":0},{"p":"AndX","m":"Leaky Box","x":-0.035,"y":0},
{"p":"AndX","m":"Accretion","x":-4.546,"y":0.002},{"p":"AndX","m":"Accretion","x":-4.146,"y":0.004},{"p":"AndX","m":"Accretion","x":-3.946,"y":0.0052},{"p":"AndX","m":"Accretion","x":-3.746,"y":0.0065},{"p":"AndX","m":"Accretion","x":-3.546,"y":0.0085},{"p":"AndX","m":"Accretion","x":-3.346,"y":0.012},{"p":"AndX","m":"Accretion","x":-3.146,"y":0.019},{"p":"AndX","m":"Accretion","x":-3.046,"y":0.024},{"p":"AndX","m":"Accretion","x":-2.946,"y":0.031},{"p":"AndX","m":"Accretion","x":-2.846,"y":0.041},{"p":"AndX","m":"Accretion","x":-2.746,"y":0.055},{"p":"AndX","m":"Accretion","x":-2.646,"y":0.074},{"p":"AndX","m":"Accretion","x":-2.546,"y":0.1},{"p":"AndX","m":"Accretion","x":-2.446,"y":0.138},{"p":"AndX","m":"Accretion","x":-2.346,"y":0.18},{"p":"AndX","m":"Accretion","x":-2.246,"y":0.215},{"p":"AndX","m":"Accretion","x":-2.146,"y":0.2296},{"p":"AndX","m":"Accretion","x":-2.046,"y":0.218},{"p":"AndX","m":"Accretion","x":-1.946,"y":0.183},{"p":"AndX","m":"Accretion","x":-1.846,"y":0.138},{"p":"AndX","m":"Accretion","x":-1.746,"y":0.098},{"p":"AndX","m":"Accretion","x":-1.646,"y":0.064},{"p":"AndX","m":"Accretion","x":-1.546,"y":0.038},{"p":"AndX","m":"Accretion","x":-1.446,"y":0.018},{"p":"AndX","m":"Accretion","x":-1.346,"y":0.007},{"p":"AndX","m":"Accretion","x":-1.246,"y":0.002},{"p":"AndX","m":"Accretion","x":-1.146,"y":0.0005},{"p":"AndX","m":"Accretion","x":-0.946,"y":0},{"p":"AndX","m":"Accretion","x":-0.146,"y":0}
]
},
"hconcat": [
{
 "width": 209.6, "height": 352,
 "layer": [
  {"data": {"name": "err"}, "transform": [{"filter": "datum.p === 'AndVII'"}],
   "mark": {"type": "rule", "color": "#333333", "strokeWidth": 1.2, "clip": true},
   "encoding": {
    "x": {"field": "x", "type": "quantitative", "scale": {"domain": [-3.6, -0.2], "nice": false, "zero": false}, "axis": {"orient": "bottom", "values": [-3, -2, -1], "labels": false, "tickSize": 8, "offset": -8, "title": null}},
    "y": {"field": "lo", "type": "quantitative", "scale": {"domain": [0, 0.35], "nice": false, "zero": false}, "axis": {"orient": "left", "values": [0.05, 0.1, 0.15, 0.2, 0.25, 0.3], "labels": false, "tickSize": 8, "offset": -8, "title": null}},
    "y2": {"field": "hi"}}},
  {"data": {"name": "hist"}, "transform": [{"filter": "datum.p === 'AndVII'"}],
   "mark": {"type": "line", "interpolate": "step-after", "color": "black", "strokeWidth": 2.5, "clip": true},
   "encoding": {
    "x": {"field": "x", "type": "quantitative", "axis": {"orient": "bottom", "values": [-3, -2, -1], "format": "d", "ticks": false, "tickSize": 0, "labelPadding": 16, "labelFont": "Liberation Serif", "title": null}},
    "y": {"field": "y", "type": "quantitative", "axis": {"orient": "left", "values": [0, 0.05, 0.1, 0.15, 0.2, 0.25, 0.3, 0.35], "format": ".2f", "ticks": false, "tickSize": 0, "labelPadding": 12, "labelFlush": true, "labelFlushOffset": 4, "labelFont": "Liberation Serif", "title": "dN / d[Fe/H]", "titleFont": "Liberation Serif", "titlePadding": 8}},
    "order": {"field": "o", "type": "quantitative"}}},
  {"data": {"name": "curve"}, "transform": [{"filter": "datum.p === 'AndVII'"}],
   "mark": {"type": "line", "interpolate": "monotone", "strokeWidth": 2.5, "clip": true},
   "encoding": {
    "x": {"field": "x", "type": "quantitative", "axis": {"orient": "bottom", "values": [-3.4, -3.2, -2.8, -2.6, -2.4, -2.2, -1.8, -1.6, -1.4, -1.2, -0.8, -0.6, -0.4], "labels": false, "tickSize": 4, "offset": -4, "title": null}},
    "y": {"field": "y", "type": "quantitative", "axis": {"orient": "left", "values": [0.01,0.02,0.03,0.04,0.06,0.07,0.08,0.09,0.11,0.12,0.13,0.14,0.16,0.17,0.18,0.19,0.21,0.22,0.23,0.24,0.26,0.27,0.28,0.29,0.31,0.32,0.33,0.34], "labels": false, "tickSize": 4, "offset": -4, "title": null}},
    "color": {"field": "m", "type": "nominal", "scale": {"domain": ["Leaky Box", "Pre−Enriched", "Accretion"], "range": ["#0000ff", "#00ff00", "#ff0000"]},
      "legend": {"orient": "none", "legendX": 54, "legendY": -40, "direction": "horizontal", "columns": 3, "title": null, "symbolType": "stroke", "symbolSize": 10816, "symbolStrokeWidth": 2.5, "clipHeight": 30, "gridAlign": "all", "columnPadding": 68, "labelOffset": 20, "labelLimit": 400, "labelFont": "Liberation Serif"}}}},
  {"data": {"name": "typ"}, "transform": [{"filter": "datum.p === 'AndVII'"}],
   "mark": {"type": "rule", "color": "black", "strokeWidth": 2.5},
   "encoding": {
    "x": {"field": "lo", "type": "quantitative", "axis": {"orient": "top", "values": [-3, -2, -1], "labels": false, "tickSize": 8, "offset": -8, "title": null}},
    "x2": {"field": "hi"},
    "y": {"datum": 0.325, "type": "quantitative", "axis": {"orient": "right", "values": [0.05, 0.1, 0.15, 0.2, 0.25, 0.3], "labels": false, "tickSize": 8, "offset": -8, "title": null}}}},
  {"data": {"name": "typ"}, "transform": [{"filter": "datum.p === 'AndVII'"}, {"fold": ["lo", "hi"], "as": ["k", "v"]}],
   "mark": {"type": "tick", "orient": "vertical", "color": "black", "thickness": 2.5, "size": 7},
   "encoding": {
    "x": {"field": "v", "type": "quantitative", "axis": {"orient": "top", "values": [-3.4, -3.2, -2.8, -2.6, -2.4, -2.2, -1.8, -1.6, -1.4, -1.2, -0.8, -0.6, -0.4], "labels": false, "tickSize": 4, "offset": -4, "title": null}},
    "y": {"datum": 0.325, "type": "quantitative", "axis": {"orient": "right", "values": [0.01,0.02,0.03,0.04,0.06,0.07,0.08,0.09,0.11,0.12,0.13,0.14,0.16,0.17,0.18,0.19,0.21,0.22,0.23,0.24,0.26,0.27,0.28,0.29,0.31,0.32,0.33,0.34], "labels": false, "tickSize": 4, "offset": -4, "title": null}}}},
  {"data": {"values": [{}]}, "mark": {"type": "text", "align": "left", "baseline": "alphabetic", "font": "Liberation Serif", "fontSize": 28, "color": "black"},
   "encoding": {"x": {"datum": -3.43, "type": "quantitative", "axis": null}, "y": {"datum": 0.3235, "type": "quantitative", "axis": null}, "text": {"value": "AndVII"}}},
  {"data": {"values": [{}]}, "mark": {"type": "text", "align": "left", "baseline": "alphabetic", "font": "Liberation Serif", "fontSize": 28, "fontStyle": "italic", "color": "black"},
   "encoding": {"x": {"datum": -3.43, "type": "quantitative", "axis": null}, "y": {"datum": 0.2945, "type": "quantitative", "axis": null}, "text": {"value": "N"}}},
  {"data": {"values": [{}]}, "mark": {"type": "text", "align": "left", "baseline": "alphabetic", "font": "Liberation Serif", "fontSize": 28, "color": "black", "dx": 20.5},
   "encoding": {"x": {"datum": -3.43, "type": "quantitative", "axis": null}, "y": {"datum": 0.2945, "type": "quantitative", "axis": null}, "text": {"value": "=87"}}}
 ],
 "resolve": {"axis": {"x": "independent", "y": "independent"}}
},
{
 "width": 209.6, "height": 352,
 "layer": [
  {"data": {"name": "err"}, "transform": [{"filter": "datum.p === 'AndI'"}],
   "mark": {"type": "rule", "color": "#333333", "strokeWidth": 1.2, "clip": true},
   "encoding": {
    "x": {"field": "x", "type": "quantitative", "scale": {"domain": [-3.6, -0.2], "nice": false, "zero": false}, "axis": {"orient": "bottom", "values": [-3, -2, -1], "labels": false, "tickSize": 8, "offset": -8, "title": null}},
    "y": {"field": "lo", "type": "quantitative", "scale": {"domain": [0, 0.35], "nice": false, "zero": false}, "axis": {"orient": "left", "values": [0.05, 0.1, 0.15, 0.2, 0.25, 0.3], "labels": false, "tickSize": 8, "offset": -8, "title": null}},
    "y2": {"field": "hi"}}},
  {"data": {"name": "hist"}, "transform": [{"filter": "datum.p === 'AndI'"}],
   "mark": {"type": "line", "interpolate": "step-after", "color": "black", "strokeWidth": 2.5, "clip": true},
   "encoding": {
    "x": {"field": "x", "type": "quantitative", "axis": {"orient": "bottom", "values": [-3, -2, -1], "format": "d", "ticks": false, "tickSize": 0, "labelPadding": 16, "labelFont": "Liberation Serif", "title": null}},
    "y": {"field": "y", "type": "quantitative", "axis": null},
    "order": {"field": "o", "type": "quantitative"}}},
  {"data": {"name": "curve"}, "transform": [{"filter": "datum.p === 'AndI'"}],
   "mark": {"type": "line", "interpolate": "monotone", "strokeWidth": 2.5, "clip": true},
   "encoding": {
    "x": {"field": "x", "type": "quantitative", "axis": {"orient": "bottom", "values": [-3.4, -3.2, -2.8, -2.6, -2.4, -2.2, -1.8, -1.6, -1.4, -1.2, -0.8, -0.6, -0.4], "labels": false, "tickSize": 4, "offset": -4, "title": null}},
    "y": {"field": "y", "type": "quantitative", "axis": {"orient": "left", "values": [0.01,0.02,0.03,0.04,0.06,0.07,0.08,0.09,0.11,0.12,0.13,0.14,0.16,0.17,0.18,0.19,0.21,0.22,0.23,0.24,0.26,0.27,0.28,0.29,0.31,0.32,0.33,0.34], "labels": false, "tickSize": 4, "offset": -4, "title": null}},
    "color": {"field": "m", "type": "nominal", "scale": {"domain": ["Leaky Box", "Pre−Enriched", "Accretion"], "range": ["#0000ff", "#00ff00", "#ff0000"]},
      "legend": {"orient": "none", "legendX": 54, "legendY": -40, "direction": "horizontal", "columns": 3, "title": null, "symbolType": "stroke", "symbolSize": 10816, "symbolStrokeWidth": 2.5, "clipHeight": 30, "gridAlign": "all", "columnPadding": 68, "labelOffset": 20, "labelLimit": 400, "labelFont": "Liberation Serif"}}}},
  {"data": {"name": "typ"}, "transform": [{"filter": "datum.p === 'AndI'"}],
   "mark": {"type": "rule", "color": "black", "strokeWidth": 2.5},
   "encoding": {
    "x": {"field": "lo", "type": "quantitative", "axis": {"orient": "top", "values": [-3, -2, -1], "labels": false, "tickSize": 8, "offset": -8, "title": null}},
    "x2": {"field": "hi"},
    "y": {"datum": 0.325, "type": "quantitative", "axis": {"orient": "right", "values": [0.05, 0.1, 0.15, 0.2, 0.25, 0.3], "labels": false, "tickSize": 8, "offset": -8, "title": null}}}},
  {"data": {"name": "typ"}, "transform": [{"filter": "datum.p === 'AndI'"}, {"fold": ["lo", "hi"], "as": ["k", "v"]}],
   "mark": {"type": "tick", "orient": "vertical", "color": "black", "thickness": 2.5, "size": 7},
   "encoding": {
    "x": {"field": "v", "type": "quantitative", "axis": {"orient": "top", "values": [-3.4, -3.2, -2.8, -2.6, -2.4, -2.2, -1.8, -1.6, -1.4, -1.2, -0.8, -0.6, -0.4], "labels": false, "tickSize": 4, "offset": -4, "title": null}},
    "y": {"datum": 0.325, "type": "quantitative", "axis": {"orient": "right", "values": [0.01,0.02,0.03,0.04,0.06,0.07,0.08,0.09,0.11,0.12,0.13,0.14,0.16,0.17,0.18,0.19,0.21,0.22,0.23,0.24,0.26,0.27,0.28,0.29,0.31,0.32,0.33,0.34], "labels": false, "tickSize": 4, "offset": -4, "title": null}}}},
  {"data": {"values": [{}]}, "mark": {"type": "text", "align": "left", "baseline": "alphabetic", "font": "Liberation Serif", "fontSize": 28, "color": "black"},
   "encoding": {"x": {"datum": -3.43, "type": "quantitative", "axis": null}, "y": {"datum": 0.3235, "type": "quantitative", "axis": null}, "text": {"value": "AndI"}}},
  {"data": {"values": [{}]}, "mark": {"type": "text", "align": "left", "baseline": "alphabetic", "font": "Liberation Serif", "fontSize": 28, "fontStyle": "italic", "color": "black"},
   "encoding": {"x": {"datum": -3.43, "type": "quantitative", "axis": null}, "y": {"datum": 0.2945, "type": "quantitative", "axis": null}, "text": {"value": "N"}}},
  {"data": {"values": [{}]}, "mark": {"type": "text", "align": "left", "baseline": "alphabetic", "font": "Liberation Serif", "fontSize": 28, "color": "black", "dx": 20.5},
   "encoding": {"x": {"datum": -3.43, "type": "quantitative", "axis": null}, "y": {"datum": 0.2945, "type": "quantitative", "axis": null}, "text": {"value": "=28"}}}
 ],
 "resolve": {"axis": {"x": "independent", "y": "independent"}}
},
{
 "width": 209.6, "height": 352,
 "layer": [
  {"data": {"name": "err"}, "transform": [{"filter": "datum.p === 'AndIII'"}],
   "mark": {"type": "rule", "color": "#333333", "strokeWidth": 1.2, "clip": true},
   "encoding": {
    "x": {"field": "x", "type": "quantitative", "scale": {"domain": [-3.6, -0.2], "nice": false, "zero": false}, "axis": {"orient": "bottom", "values": [-3, -2, -1], "labels": false, "tickSize": 8, "offset": -8, "title": null}},
    "y": {"field": "lo", "type": "quantitative", "scale": {"domain": [0, 0.35], "nice": false, "zero": false}, "axis": {"orient": "left", "values": [0.05, 0.1, 0.15, 0.2, 0.25, 0.3], "labels": false, "tickSize": 8, "offset": -8, "title": null}},
    "y2": {"field": "hi"}}},
  {"data": {"name": "hist"}, "transform": [{"filter": "datum.p === 'AndIII'"}],
   "mark": {"type": "line", "interpolate": "step-after", "color": "black", "strokeWidth": 2.5, "clip": true},
   "encoding": {
    "x": {"field": "x", "type": "quantitative", "axis": {"orient": "bottom", "values": [-3, -2, -1], "format": "d", "ticks": false, "tickSize": 0, "labelPadding": 16, "labelFont": "Liberation Serif", "title": "[Fe/H]", "titleFont": "Liberation Serif", "titlePadding": 10}},
    "y": {"field": "y", "type": "quantitative", "axis": null},
    "order": {"field": "o", "type": "quantitative"}}},
  {"data": {"name": "curve"}, "transform": [{"filter": "datum.p === 'AndIII'"}],
   "mark": {"type": "line", "interpolate": "monotone", "strokeWidth": 2.5, "clip": true},
   "encoding": {
    "x": {"field": "x", "type": "quantitative", "axis": {"orient": "bottom", "values": [-3.4, -3.2, -2.8, -2.6, -2.4, -2.2, -1.8, -1.6, -1.4, -1.2, -0.8, -0.6, -0.4], "labels": false, "tickSize": 4, "offset": -4, "title": null}},
    "y": {"field": "y", "type": "quantitative", "axis": {"orient": "left", "values": [0.01,0.02,0.03,0.04,0.06,0.07,0.08,0.09,0.11,0.12,0.13,0.14,0.16,0.17,0.18,0.19,0.21,0.22,0.23,0.24,0.26,0.27,0.28,0.29,0.31,0.32,0.33,0.34], "labels": false, "tickSize": 4, "offset": -4, "title": null}},
    "color": {"field": "m", "type": "nominal", "scale": {"domain": ["Leaky Box", "Pre−Enriched", "Accretion"], "range": ["#0000ff", "#00ff00", "#ff0000"]},
      "legend": {"orient": "none", "legendX": 54, "legendY": -40, "direction": "horizontal", "columns": 3, "title": null, "symbolType": "stroke", "symbolSize": 10816, "symbolStrokeWidth": 2.5, "clipHeight": 30, "gridAlign": "all", "columnPadding": 68, "labelOffset": 20, "labelLimit": 400, "labelFont": "Liberation Serif"}}}},
  {"data": {"name": "typ"}, "transform": [{"filter": "datum.p === 'AndIII'"}],
   "mark": {"type": "rule", "color": "black", "strokeWidth": 2.5},
   "encoding": {
    "x": {"field": "lo", "type": "quantitative", "axis": {"orient": "top", "values": [-3, -2, -1], "labels": false, "tickSize": 8, "offset": -8, "title": null}},
    "x2": {"field": "hi"},
    "y": {"datum": 0.325, "type": "quantitative", "axis": {"orient": "right", "values": [0.05, 0.1, 0.15, 0.2, 0.25, 0.3], "labels": false, "tickSize": 8, "offset": -8, "title": null}}}},
  {"data": {"name": "typ"}, "transform": [{"filter": "datum.p === 'AndIII'"}, {"fold": ["lo", "hi"], "as": ["k", "v"]}],
   "mark": {"type": "tick", "orient": "vertical", "color": "black", "thickness": 2.5, "size": 7},
   "encoding": {
    "x": {"field": "v", "type": "quantitative", "axis": {"orient": "top", "values": [-3.4, -3.2, -2.8, -2.6, -2.4, -2.2, -1.8, -1.6, -1.4, -1.2, -0.8, -0.6, -0.4], "labels": false, "tickSize": 4, "offset": -4, "title": null}},
    "y": {"datum": 0.325, "type": "quantitative", "axis": {"orient": "right", "values": [0.01,0.02,0.03,0.04,0.06,0.07,0.08,0.09,0.11,0.12,0.13,0.14,0.16,0.17,0.18,0.19,0.21,0.22,0.23,0.24,0.26,0.27,0.28,0.29,0.31,0.32,0.33,0.34], "labels": false, "tickSize": 4, "offset": -4, "title": null}}}},
  {"data": {"values": [{}]}, "mark": {"type": "text", "align": "left", "baseline": "alphabetic", "font": "Liberation Serif", "fontSize": 28, "color": "black"},
   "encoding": {"x": {"datum": -3.43, "type": "quantitative", "axis": null}, "y": {"datum": 0.3235, "type": "quantitative", "axis": null}, "text": {"value": "AndIII"}}},
  {"data": {"values": [{}]}, "mark": {"type": "text", "align": "left", "baseline": "alphabetic", "font": "Liberation Serif", "fontSize": 28, "fontStyle": "italic", "color": "black"},
   "encoding": {"x": {"datum": -3.43, "type": "quantitative", "axis": null}, "y": {"datum": 0.2945, "type": "quantitative", "axis": null}, "text": {"value": "N"}}},
  {"data": {"values": [{}]}, "mark": {"type": "text", "align": "left", "baseline": "alphabetic", "font": "Liberation Serif", "fontSize": 28, "color": "black", "dx": 20.5},
   "encoding": {"x": {"datum": -3.43, "type": "quantitative", "axis": null}, "y": {"datum": 0.2945, "type": "quantitative", "axis": null}, "text": {"value": "=24"}}}
 ],
 "resolve": {"axis": {"x": "independent", "y": "independent"}}
},
{
 "width": 209.6, "height": 352,
 "layer": [
  {"data": {"name": "err"}, "transform": [{"filter": "datum.p === 'AndV'"}],
   "mark": {"type": "rule", "color": "#333333", "strokeWidth": 1.2, "clip": true},
   "encoding": {
    "x": {"field": "x", "type": "quantitative", "scale": {"domain": [-3.6, -0.2], "nice": false, "zero": false}, "axis": {"orient": "bottom", "values": [-3, -2, -1], "labels": false, "tickSize": 8, "offset": -8, "title": null}},
    "y": {"field": "lo", "type": "quantitative", "scale": {"domain": [0, 0.35], "nice": false, "zero": false}, "axis": {"orient": "left", "values": [0.05, 0.1, 0.15, 0.2, 0.25, 0.3], "labels": false, "tickSize": 8, "offset": -8, "title": null}},
    "y2": {"field": "hi"}}},
  {"data": {"name": "hist"}, "transform": [{"filter": "datum.p === 'AndV'"}],
   "mark": {"type": "line", "interpolate": "step-after", "color": "black", "strokeWidth": 2.5, "clip": true},
   "encoding": {
    "x": {"field": "x", "type": "quantitative", "axis": {"orient": "bottom", "values": [-3, -2, -1], "format": "d", "ticks": false, "tickSize": 0, "labelPadding": 16, "labelFont": "Liberation Serif", "title": null}},
    "y": {"field": "y", "type": "quantitative", "axis": null},
    "order": {"field": "o", "type": "quantitative"}}},
  {"data": {"name": "curve"}, "transform": [{"filter": "datum.p === 'AndV'"}],
   "mark": {"type": "line", "interpolate": "monotone", "strokeWidth": 2.5, "clip": true},
   "encoding": {
    "x": {"field": "x", "type": "quantitative", "axis": {"orient": "bottom", "values": [-3.4, -3.2, -2.8, -2.6, -2.4, -2.2, -1.8, -1.6, -1.4, -1.2, -0.8, -0.6, -0.4], "labels": false, "tickSize": 4, "offset": -4, "title": null}},
    "y": {"field": "y", "type": "quantitative", "axis": {"orient": "left", "values": [0.01,0.02,0.03,0.04,0.06,0.07,0.08,0.09,0.11,0.12,0.13,0.14,0.16,0.17,0.18,0.19,0.21,0.22,0.23,0.24,0.26,0.27,0.28,0.29,0.31,0.32,0.33,0.34], "labels": false, "tickSize": 4, "offset": -4, "title": null}},
    "color": {"field": "m", "type": "nominal", "scale": {"domain": ["Leaky Box", "Pre−Enriched", "Accretion"], "range": ["#0000ff", "#00ff00", "#ff0000"]},
      "legend": {"orient": "none", "legendX": 54, "legendY": -40, "direction": "horizontal", "columns": 3, "title": null, "symbolType": "stroke", "symbolSize": 10816, "symbolStrokeWidth": 2.5, "clipHeight": 30, "gridAlign": "all", "columnPadding": 68, "labelOffset": 20, "labelLimit": 400, "labelFont": "Liberation Serif"}}}},
  {"data": {"name": "typ"}, "transform": [{"filter": "datum.p === 'AndV'"}],
   "mark": {"type": "rule", "color": "black", "strokeWidth": 2.5},
   "encoding": {
    "x": {"field": "lo", "type": "quantitative", "axis": {"orient": "top", "values": [-3, -2, -1], "labels": false, "tickSize": 8, "offset": -8, "title": null}},
    "x2": {"field": "hi"},
    "y": {"datum": 0.325, "type": "quantitative", "axis": {"orient": "right", "values": [0.05, 0.1, 0.15, 0.2, 0.25, 0.3], "labels": false, "tickSize": 8, "offset": -8, "title": null}}}},
  {"data": {"name": "typ"}, "transform": [{"filter": "datum.p === 'AndV'"}, {"fold": ["lo", "hi"], "as": ["k", "v"]}],
   "mark": {"type": "tick", "orient": "vertical", "color": "black", "thickness": 2.5, "size": 7},
   "encoding": {
    "x": {"field": "v", "type": "quantitative", "axis": {"orient": "top", "values": [-3.4, -3.2, -2.8, -2.6, -2.4, -2.2, -1.8, -1.6, -1.4, -1.2, -0.8, -0.6, -0.4], "labels": false, "tickSize": 4, "offset": -4, "title": null}},
    "y": {"datum": 0.325, "type": "quantitative", "axis": {"orient": "right", "values": [0.01,0.02,0.03,0.04,0.06,0.07,0.08,0.09,0.11,0.12,0.13,0.14,0.16,0.17,0.18,0.19,0.21,0.22,0.23,0.24,0.26,0.27,0.28,0.29,0.31,0.32,0.33,0.34], "labels": false, "tickSize": 4, "offset": -4, "title": null}}}},
  {"data": {"values": [{}]}, "mark": {"type": "text", "align": "left", "baseline": "alphabetic", "font": "Liberation Serif", "fontSize": 28, "color": "black"},
   "encoding": {"x": {"datum": -3.43, "type": "quantitative", "axis": null}, "y": {"datum": 0.3235, "type": "quantitative", "axis": null}, "text": {"value": "AndV"}}},
  {"data": {"values": [{}]}, "mark": {"type": "text", "align": "left", "baseline": "alphabetic", "font": "Liberation Serif", "fontSize": 28, "fontStyle": "italic", "color": "black"},
   "encoding": {"x": {"datum": -3.43, "type": "quantitative", "axis": null}, "y": {"datum": 0.2945, "type": "quantitative", "axis": null}, "text": {"value": "N"}}},
  {"data": {"values": [{}]}, "mark": {"type": "text", "align": "left", "baseline": "alphabetic", "font": "Liberation Serif", "fontSize": 28, "color": "black", "dx": 20.5},
   "encoding": {"x": {"datum": -3.43, "type": "quantitative", "axis": null}, "y": {"datum": 0.2945, "type": "quantitative", "axis": null}, "text": {"value": "=81"}}}
 ],
 "resolve": {"axis": {"x": "independent", "y": "independent"}}
},
{
 "width": 209.6, "height": 352,
 "layer": [
  {"data": {"name": "err"}, "transform": [{"filter": "datum.p === 'AndX'"}],
   "mark": {"type": "rule", "color": "#333333", "strokeWidth": 1.2, "clip": true},
   "encoding": {
    "x": {"field": "x", "type": "quantitative", "scale": {"domain": [-3.6, -0.2], "nice": false, "zero": false}, "axis": {"orient": "bottom", "values": [-3, -2, -1], "labels": false, "tickSize": 8, "offset": -8, "title": null}},
    "y": {"field": "lo", "type": "quantitative", "scale": {"domain": [0, 0.35], "nice": false, "zero": false}, "axis": {"orient": "left", "values": [0.05, 0.1, 0.15, 0.2, 0.25, 0.3], "labels": false, "tickSize": 8, "offset": -8, "title": null}},
    "y2": {"field": "hi"}}},
  {"data": {"name": "hist"}, "transform": [{"filter": "datum.p === 'AndX'"}],
   "mark": {"type": "line", "interpolate": "step-after", "color": "black", "strokeWidth": 2.5, "clip": true},
   "encoding": {
    "x": {"field": "x", "type": "quantitative", "axis": {"orient": "bottom", "values": [-3, -2, -1], "format": "d", "ticks": false, "tickSize": 0, "labelPadding": 16, "labelFont": "Liberation Serif", "title": null}},
    "y": {"field": "y", "type": "quantitative", "axis": null},
    "order": {"field": "o", "type": "quantitative"}}},
  {"data": {"name": "curve"}, "transform": [{"filter": "datum.p === 'AndX'"}],
   "mark": {"type": "line", "interpolate": "monotone", "strokeWidth": 2.5, "clip": true},
   "encoding": {
    "x": {"field": "x", "type": "quantitative", "axis": {"orient": "bottom", "values": [-3.4, -3.2, -2.8, -2.6, -2.4, -2.2, -1.8, -1.6, -1.4, -1.2, -0.8, -0.6, -0.4], "labels": false, "tickSize": 4, "offset": -4, "title": null}},
    "y": {"field": "y", "type": "quantitative", "axis": {"orient": "left", "values": [0.01,0.02,0.03,0.04,0.06,0.07,0.08,0.09,0.11,0.12,0.13,0.14,0.16,0.17,0.18,0.19,0.21,0.22,0.23,0.24,0.26,0.27,0.28,0.29,0.31,0.32,0.33,0.34], "labels": false, "tickSize": 4, "offset": -4, "title": null}},
    "color": {"field": "m", "type": "nominal", "scale": {"domain": ["Leaky Box", "Pre−Enriched", "Accretion"], "range": ["#0000ff", "#00ff00", "#ff0000"]},
      "legend": {"orient": "none", "legendX": 54, "legendY": -40, "direction": "horizontal", "columns": 3, "title": null, "symbolType": "stroke", "symbolSize": 10816, "symbolStrokeWidth": 2.5, "clipHeight": 30, "gridAlign": "all", "columnPadding": 68, "labelOffset": 20, "labelLimit": 400, "labelFont": "Liberation Serif"}}}},
  {"data": {"name": "typ"}, "transform": [{"filter": "datum.p === 'AndX'"}],
   "mark": {"type": "rule", "color": "black", "strokeWidth": 2.5},
   "encoding": {
    "x": {"field": "lo", "type": "quantitative", "axis": {"orient": "top", "values": [-3, -2, -1], "labels": false, "tickSize": 8, "offset": -8, "title": null}},
    "x2": {"field": "hi"},
    "y": {"datum": 0.325, "type": "quantitative", "axis": {"orient": "right", "values": [0.05, 0.1, 0.15, 0.2, 0.25, 0.3], "labels": false, "tickSize": 8, "offset": -8, "title": null}}}},
  {"data": {"name": "typ"}, "transform": [{"filter": "datum.p === 'AndX'"}, {"fold": ["lo", "hi"], "as": ["k", "v"]}],
   "mark": {"type": "tick", "orient": "vertical", "color": "black", "thickness": 2.5, "size": 7},
   "encoding": {
    "x": {"field": "v", "type": "quantitative", "axis": {"orient": "top", "values": [-3.4, -3.2, -2.8, -2.6, -2.4, -2.2, -1.8, -1.6, -1.4, -1.2, -0.8, -0.6, -0.4], "labels": false, "tickSize": 4, "offset": -4, "title": null}},
    "y": {"datum": 0.325, "type": "quantitative", "axis": {"orient": "right", "values": [0.01,0.02,0.03,0.04,0.06,0.07,0.08,0.09,0.11,0.12,0.13,0.14,0.16,0.17,0.18,0.19,0.21,0.22,0.23,0.24,0.26,0.27,0.28,0.29,0.31,0.32,0.33,0.34], "labels": false, "tickSize": 4, "offset": -4, "title": null}}}},
  {"data": {"values": [{}]}, "mark": {"type": "text", "align": "left", "baseline": "alphabetic", "font": "Liberation Serif", "fontSize": 28, "color": "black"},
   "encoding": {"x": {"datum": -3.43, "type": "quantitative", "axis": null}, "y": {"datum": 0.3235, "type": "quantitative", "axis": null}, "text": {"value": "AndX"}}},
  {"data": {"values": [{}]}, "mark": {"type": "text", "align": "left", "baseline": "alphabetic", "font": "Liberation Serif", "fontSize": 28, "fontStyle": "italic", "color": "black"},
   "encoding": {"x": {"datum": -3.43, "type": "quantitative", "axis": null}, "y": {"datum": 0.2945, "type": "quantitative", "axis": null}, "text": {"value": "N"}}},
  {"data": {"values": [{}]}, "mark": {"type": "text", "align": "left", "baseline": "alphabetic", "font": "Liberation Serif", "fontSize": 28, "color": "black", "dx": 20.5},
   "encoding": {"x": {"datum": -3.43, "type": "quantitative", "axis": null}, "y": {"datum": 0.2945, "type": "quantitative", "axis": null}, "text": {"value": "=21"}}}
 ],
 "resolve": {"axis": {"x": "independent", "y": "independent"}}
}
]
}
